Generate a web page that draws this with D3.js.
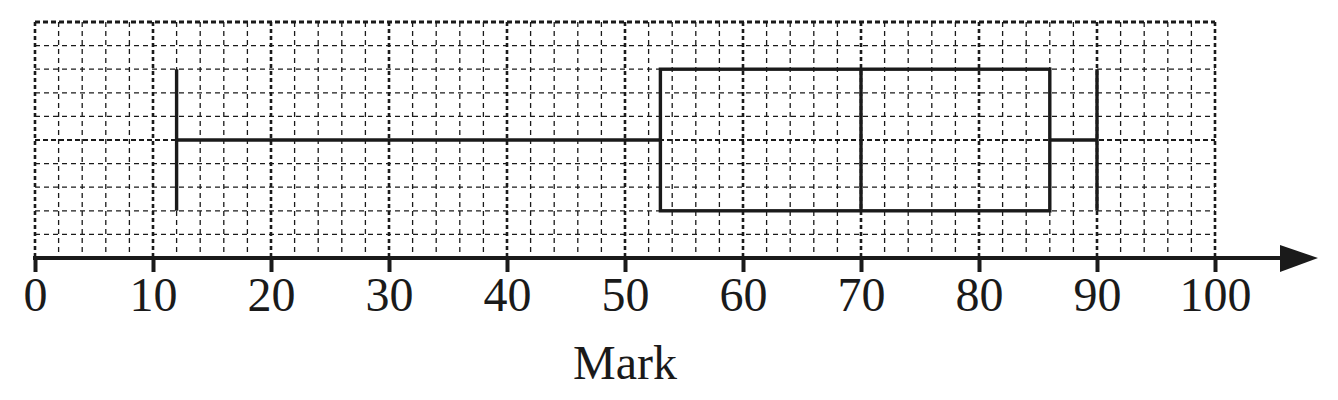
<!DOCTYPE html>
<html>
<head>
<meta charset="utf-8">
<script src="https://cdn.jsdelivr.net/npm/d3@7"></script>
<style>
  html, body { margin: 0; padding: 0; background: #fff; }
  svg { display: block; }
</style>
</head>
<body>
<svg id="chart" width="1338" height="400"></svg>
<script>
// Data
const boxStats = { min: 12, q1: 53, median: 70, q3: 86, max: 90 };
const xTicks = [0, 10, 20, 30, 40, 50, 60, 70, 80, 90, 100];
const xMinorGrid = d3.range(0, 101, 2);
const yGrid = d3.range(0, 21, 2);
const xLabel = "Mark";

const svg = d3.select("#chart");
const x = d3.scaleLinear().domain([0, 100]).range([35, 1215]);
const y = d3.scaleLinear().domain([0, 20]).range([258, 22]);
const ink = "#1a1a1a";

// Grid: minor
const g = svg.append("g");
xMinorGrid.filter(v => v % 10 !== 0).forEach(v => {
  g.append("line").attr("x1", x(v)).attr("x2", x(v)).attr("y1", y(20)).attr("y2", y(0))
    .attr("stroke", ink).attr("stroke-width", 1.3).attr("stroke-dasharray", "5,4");
});
yGrid.filter(v => v !== 0 && v !== 10 && v !== 20).forEach(v => {
  g.append("line").attr("x1", x(0)).attr("x2", x(100)).attr("y1", y(v)).attr("y2", y(v))
    .attr("stroke", ink).attr("stroke-width", 1.3).attr("stroke-dasharray", "5,4");
});
// Grid: major
xTicks.forEach(v => {
  g.append("line").attr("x1", x(v)).attr("x2", x(v)).attr("y1", y(20)).attr("y2", y(0))
    .attr("stroke", ink).attr("stroke-width", 2.6).attr("stroke-dasharray", "4,3");
});
[10, 20].forEach(v => {
  g.append("line").attr("x1", x(0)).attr("x2", x(100)).attr("y1", y(v)).attr("y2", y(v))
    .attr("stroke", ink).attr("stroke-width", v === 20 ? 2.8 : 2).attr("stroke-dasharray", "5,3");
});

// Box plot
const yTop = y(16), yBot = y(4), yMid = y(10);
const b = svg.append("g").attr("stroke", ink).attr("stroke-width", 3.4).attr("fill", "none");
b.append("line").attr("x1", x(boxStats.min)).attr("x2", x(boxStats.q1)).attr("y1", yMid).attr("y2", yMid);
b.append("line").attr("x1", x(boxStats.q3)).attr("x2", x(boxStats.max)).attr("y1", yMid).attr("y2", yMid);
b.append("line").attr("x1", x(boxStats.min)).attr("x2", x(boxStats.min)).attr("y1", yTop).attr("y2", yBot);
b.append("line").attr("x1", x(boxStats.max)).attr("x2", x(boxStats.max)).attr("y1", yTop).attr("y2", yBot);
b.append("rect").attr("x", x(boxStats.q1)).attr("y", yTop)
  .attr("width", x(boxStats.q3) - x(boxStats.q1)).attr("height", yBot - yTop);
b.append("line").attr("x1", x(boxStats.median)).attr("x2", x(boxStats.median)).attr("y1", yTop).attr("y2", yBot);

// Axis
const axisG = svg.append("g").attr("transform", `translate(0,${y(0)})`);
const axis = d3.axisBottom(x).tickValues(xTicks).tickSize(14).tickPadding(5).tickFormat(d3.format("d"));
axisG.call(axis);
axisG.select(".domain").remove();
axisG.selectAll(".tick line").attr("stroke", ink).attr("stroke-width", 4);
axisG.selectAll(".tick text")
  .attr("fill", ink)
  .attr("font-family", "'Liberation Serif', 'Times New Roman', serif")
  .attr("font-size", 48)
  .attr("dy", "0.71em");
axisG.append("line").attr("x1", x(0) - 2).attr("x2", 1290).attr("y1", 0).attr("y2", 0)
  .attr("stroke", ink).attr("stroke-width", 4);
axisG.append("path").attr("d", "M1280,-13 L1318,0 L1280,14 Z").attr("fill", ink);

// Axis label
svg.append("text").attr("x", x(50)).attr("y", 379).attr("text-anchor", "middle")
  .attr("font-family", "'Liberation Serif', 'Times New Roman', serif")
  .attr("font-size", 48).attr("fill", ink).text(xLabel);
</script>
</body>
</html>
